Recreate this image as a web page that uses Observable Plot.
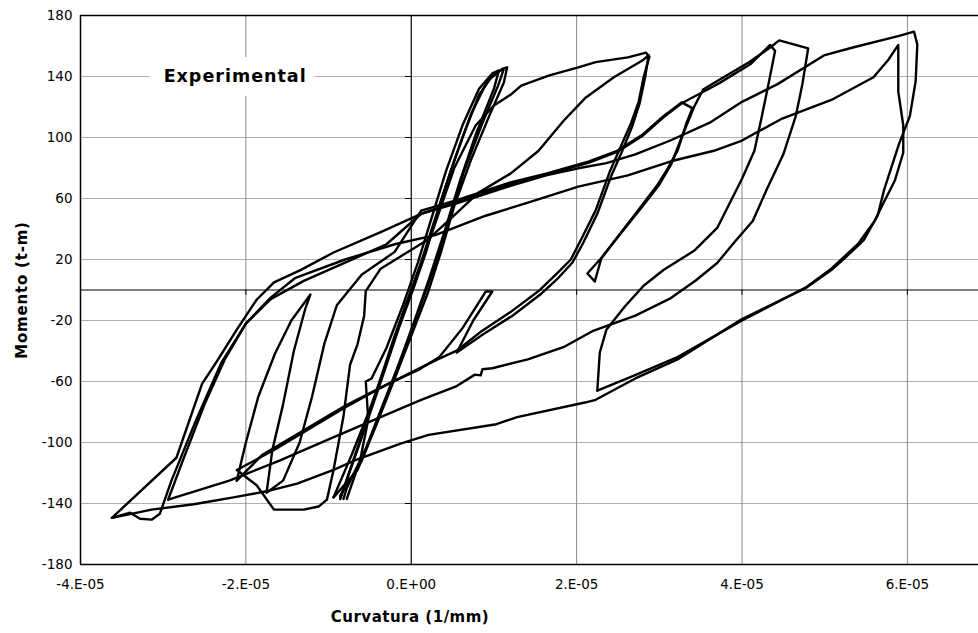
<!DOCTYPE html>
<html><head><meta charset="utf-8">
<script src="https://cdn.jsdelivr.net/npm/d3@7"></script>
<script src="https://cdn.jsdelivr.net/npm/@observablehq/plot@0.6"></script>
<style>
body{margin:0;background:#fff;font-family:"DejaVu Sans",Verdana,sans-serif;}
#chart{position:relative;width:978px;height:633px;overflow:hidden;}
</style>
</head><body><div id="chart"></div>
<script>
// Curvature values are in units of 1e-5 (1/mm); moment in t-m
const xTicks = [-4, -2, 0, 2, 4, 6];
const yTicks = [-180, -140, -100, -60, -20, 20, 60, 100, 140, 180];
const xTitle = "Curvatura (1/mm)";
const yTitle = "Momento (t-m)";
const seriesLabel = "Experimental";

const elastic1 = [[-0.86,-137],[-0.62,-100],[-0.38,-62],[-0.15,-25],[0.02,0],[0.18,25],[0.34,55],[0.52,85],[0.72,115],[0.92,137],[1.1,145],[1.16,146],[1.12,136],[0.95,115],[0.72,85],[0.52,55],[0.36,25],[0.2,-2],[0.0,-30],[-0.2,-58],[-0.42,-88],[-0.65,-118],[-0.94,-136]];
const elastic2 = [[-0.94,-136],[-0.72,-108],[-0.5,-78],[-0.28,-45],[-0.08,-12],[0.1,15],[0.26,42],[0.44,72],[0.62,100],[0.82,128],[1.0,142],[1.12,145],[1.05,134],[0.85,108],[0.64,78],[0.45,45],[0.28,15],[0.1,-12],[-0.1,-42],[-0.32,-72],[-0.55,-104],[-0.78,-130],[-0.82,-137]];
const elastic3 = [[-0.78,-137],[-0.62,-112],[-0.52,-85],[-0.55,-60],[-0.48,-58],[-0.3,-38],[-0.1,-10],[0.08,18],[0.25,48],[0.42,78],[0.62,108],[0.82,132],[0.98,142],[1.06,144],[1.0,132],[0.78,102],[0.58,70],[0.4,38],[0.22,8],[0.04,-20],[-0.16,-50],[-0.38,-82],[-0.6,-112],[-0.86,-135]];

const cycle2a = [[-0.86,-137],[-0.66,-105],[-0.42,-66],[-0.2,-30],[0.04,6],[0.28,42],[0.52,80],[0.78,108],[1.0,121],[1.2,128],[1.33,134],[1.67,140.7],[2.02,146],[2.23,149.4],[2.62,152.5],[2.84,155.6],[2.88,153],[2.81,139.5],[2.75,123.4],[2.66,109.7],[2.53,93.6],[2.4,77.5],[2.23,52.2],[2.06,33.8],[1.93,20],[1.76,10.8],[1.54,-0.7],[1.2,-14.5],[0.85,-27],[0.55,-39.8],[0.3,-46],[0,-54],[-0.4,-65],[-0.8,-77],[-1.2,-90],[-1.6,-103],[-1.9,-112],[-2.11,-118],[-1.87,-128],[-1.66,-144],[-1.3,-144],[-1.12,-142],[-1.02,-137.5]];
const cycle2b = [[-1.02,-137.5],[-0.94,-118],[-0.82,-83],[-0.74,-49],[-0.65,-35.6],[-0.57,-17],[-0.55,-0.7],[-0.37,14],[-0.13,22],[0.2,33],[0.5,48],[0.81,63.7],[1.2,76.3],[1.54,91.3],[1.84,110.8],[2.1,125.7],[2.45,139.5],[2.81,151],[2.87,154],[2.83,140],[2.76,122],[2.67,107],[2.55,91],[2.42,75],[2.25,50],[2.08,31],[1.95,18],[1.78,8],[1.56,-3],[1.22,-17],[0.87,-29],[0.55,-41],[0.75,-20],[0.98,-1],[0.9,-1],[0.62,-25],[0.34,-44],[0.1,-52],[-0.3,-62],[-0.8,-76],[-1.3,-92],[-1.8,-108],[-2.11,-125]];
const cycle2c = [[-2.11,-125],[-2.0,-100],[-1.85,-70],[-1.65,-42],[-1.45,-20],[-1.22,-3],[-1.28,-12],[-1.42,-40],[-1.55,-75],[-1.68,-105],[-1.75,-133],[-1.55,-125],[-1.35,-100],[-1.2,-70],[-1.05,-35],[-0.9,-10],[-0.6,10],[-0.2,25],[0.12,52],[0.55,59],[1.2,70.6],[1.63,76.3],[2.15,84.4],[2.49,91.3],[2.79,101.6],[3.05,114],[3.27,123],[3.4,119.3],[3.33,109.7],[3.22,91.3],[3.09,78.6],[2.97,68.3],[2.71,49.9],[2.53,37.2],[2.32,22.3],[2.13,10.8],[2.22,5.7]];
const cycle3a = [[2.22,5.7],[2.3,21],[2.45,31.5],[2.62,43],[2.79,54.5],[2.99,68.3],[3.14,82],[3.29,102.8],[3.42,120],[3.53,131.5],[3.7,137],[4.09,149.5],[4.34,159],[4.45,163.7],[4.8,158.4],[4.73,135],[4.65,114],[4.5,89],[4.3,66],[4.13,45.3],[3.91,31.5],[3.7,17.7],[3.44,6.2],[3.14,-5.3],[2.71,-16.8],[2.19,-27],[1.84,-37.5],[1.41,-45.5],[0.98,-51.3],[0.86,-52],[0.84,-56],[0.77,-55.5],[0.55,-63],[0.12,-72],[-0.4,-84],[-1.0,-98],[-1.6,-112],[-2.2,-125],[-2.94,-137.5]];
const cycle3b = [[-2.94,-137.5],[-2.75,-110],[-2.5,-75],[-2.25,-45],[-2.0,-22],[-1.7,-6],[-1.3,6],[-0.8,18],[-0.3,30],[0.12,50],[0.55,58],[1.2,69.5],[1.63,75.5],[2.15,83.6],[2.49,90.5],[2.79,100.8],[3.05,113.2],[3.27,122.5],[3.55,130.5],[3.72,135.5],[4.1,148],[4.34,160.7],[4.4,156.8],[4.32,135],[4.24,114],[4.15,91.3],[4.0,72.9],[3.7,40.7],[3.42,25.7],[3.05,13.1],[2.81,2.8],[2.58,-11],[2.36,-26],[2.28,-41],[2.25,-66]];
const cycle4a = [[2.25,-66],[2.7,-56],[3.22,-44],[4.0,-20],[4.78,2],[5.08,14],[5.4,30],[5.6,45],[5.72,58],[5.85,72],[5.95,90],[5.95,108],[5.89,130],[5.89,160.7],[5.77,151],[5.59,139.5],[5.08,124.6],[4.47,112],[4.0,98],[3.66,91.3],[3.14,84.4],[2.62,75.2],[2.02,67.8],[1.45,58],[0.9,48.7],[0.29,36],[-0.2,30],[-0.8,20],[-1.4,8],[-1.7,-5],[-2.0,-22],[-2.3,-48],[-2.6,-85],[-2.9,-125],[-3.04,-146.7],[-3.14,-150.6],[-3.28,-150],[-3.4,-146],[-3.62,-149.4]];
const cycle4b = [[-3.62,-149.4],[-2.84,-110],[-2.53,-61.6],[-2.35,-46.7],[-2.11,-26],[-1.87,-6.4],[-1.66,5],[-1.34,13],[-0.94,24.6],[-0.37,38],[0.12,49.9],[0.55,56.8],[1.2,68.3],[1.63,75.2],[2.02,79.8],[2.36,83.2],[2.71,89],[3.14,98.2],[3.61,109.7],[4.0,123.4],[4.43,135],[4.99,153.8],[5.34,159],[5.9,166.6],[6.08,169.4],[6.12,161],[6.10,137],[6.03,114],[5.9,96],[5.72,66],[5.64,48.7],[5.47,32.6],[5.27,22.3],[5.08,13.1],[4.78,1.6],[4.0,-19],[3.22,-45.5],[2.71,-58],[2.23,-72],[2.10,-73.8],[1.28,-83.4],[1.03,-88],[0.21,-95],[-0.13,-100.7],[-0.65,-111],[-0.94,-118],[-1.38,-127],[-1.75,-132],[-2.15,-136],[-2.63,-140.5],[-3.14,-144],[-3.62,-149.4]];

const branches = {elastic1, elastic2, elastic3, cycle2a, cycle2b, cycle2c, cycle3a, cycle3b, cycle4a, cycle4b};
const rows = Object.entries(branches).flatMap(([id, pts]) => pts.map(([c, m]) => ({id, c, m})));

const fmtX = d => d === 0 ? "0.E+00" : `${d}.E-05`;
const font = "DejaVu Sans, Verdana, sans-serif";

const chart = Plot.plot({
  width: 978, height: 633,
  marginLeft: 80, marginRight: 0, marginTop: 15, marginBottom: 69,
  x: {type: "linear", domain: [-4, 6.86], axis: null},
  y: {type: "linear", domain: [-180, 180], axis: null},
  style: {fontFamily: font, background: "#fff"},
  marks: [
    Plot.ruleY(yTicks.filter(d => Math.abs(d) < 180), {stroke: "#b0b0b0", strokeWidth: 1}),
    Plot.ruleX(xTicks.filter(d => d !== 0 && d !== -4), {stroke: "#8a8a8a", strokeWidth: 1}),
    Plot.rect([seriesLabel], {x1: -3.16, x2: -1.16, y1: 127, y2: 152.5, fill: "#fff"}),
    Plot.text([seriesLabel], {x: -2.13, y: 140, text: d => d, fontSize: 17.5, fontWeight: "bold", fill: "#000"}),
    Plot.line(rows, {x: "c", y: "m", z: "id", stroke: "#000", strokeWidth: 2.4, strokeLinejoin: "round"}),
    Plot.ruleY([0], {stroke: "#000", strokeWidth: 1.2}),
    Plot.ruleX([0], {stroke: "#000", strokeWidth: 1.2}),
    Plot.ruleX(xTicks.filter(d => d !== -4 && d !== 0), {x: d => d, y1: 0, y2: -3.5, stroke: "#000"}),
    Plot.ruleY(yTicks.filter(d => Math.abs(d) < 180), {y: d => d, x1: -0.07, x2: 0, stroke: "#000"}),
    Plot.ruleY([-180, 180], {stroke: "#000", strokeWidth: 1.5}),
    Plot.ruleX([-4], {stroke: "#000", strokeWidth: 1.5}),
    Plot.text(yTicks, {x: -4, y: d => d, text: d => String(d), textAnchor: "end", dx: -8, fontSize: 13.5, fill: "#000"}),
    Plot.text(xTicks, {x: d => d, y: -180, text: fmtX, dy: 20, fontSize: 13.5, fill: "#000"})
  ]
});
const svg = d3.select(chart);
svg.selectAll("g[font-size='17.5']").attr("letter-spacing", "1px");
svg.append("text").attr("x", 410).attr("y", 622).attr("text-anchor", "middle")
  .attr("font-size", 15).attr("font-weight", "bold").attr("letter-spacing", "0.5px").attr("font-family", font).text(xTitle);
svg.append("text").attr("transform", "translate(27,290) rotate(-90)").attr("text-anchor", "middle")
  .attr("font-size", 15).attr("font-weight", "bold").attr("letter-spacing", "0.8px").attr("font-family", font).text(yTitle);
document.getElementById("chart").appendChild(chart);
</script>
</body></html>
